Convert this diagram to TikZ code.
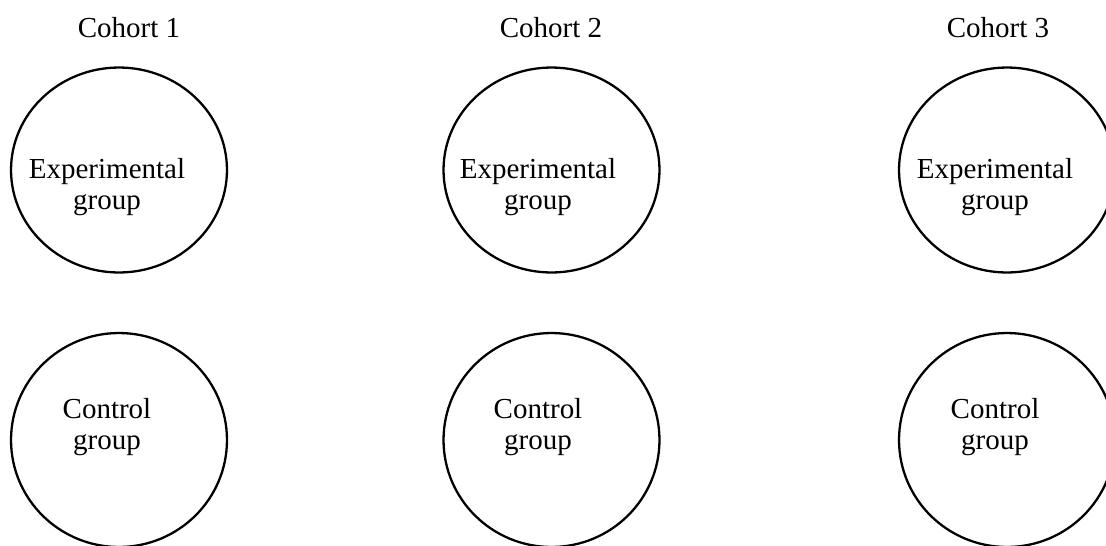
\documentclass[tikz,border=0pt]{standalone}
\usepackage{fontspec}
\setmainfont{Liberation Serif}
\usepackage{tikz}
\usetikzlibrary{shapes}
\tikzstyle{group circle}=[ellipse,draw,line width=1.3pt,minimum width=4.32cm,minimum height=4.1cm,inner sep=0pt]
\tikzstyle{control circle}=[group circle,minimum height=4.28cm]
\tikzstyle{group text}=[align=center,inner sep=0pt,font=\fontsize{16.5pt}{17.6pt}\selectfont]
\tikzstyle{cohort text}=[anchor=base,inner sep=0pt,font=\fontsize{16.5pt}{17.6pt}\selectfont]

\begin{document}
\begin{tikzpicture}[x=0.02cm,y=-0.02cm]
        \useasboundingbox (0,0) rectangle (1106,545);
        \clip (0,0) rectangle (1106,545);
        % cohort headings
        \node[cohort text] (h1) at (129,37) {Cohort 1};
        \node[cohort text] (h2) at (551,37) {Cohort 2};
        \node[cohort text] (h3) at (998,37) {Cohort 3};
        % experimental groups
        \node[group circle] (e1) at (119,170) {};
        \node[group circle] (e2) at (551.5,170) {};
        \node[group circle] (e3) at (1007,170) {};
        \node[group text] (te1) at (107,187.5) {Experimental\\group};
        \node[group text] (te2) at (538,187.5) {Experimental\\group};
        \node[group text] (te3) at (995,187.5) {Experimental\\group};
        % control groups
        \node[control circle] (c1) at (119,440) {};
        \node[control circle] (c2) at (551.5,440) {};
        \node[control circle] (c3) at (1007,440) {};
        \node[group text] (tc1) at (107,427.5) {Control\\group};
        \node[group text] (tc2) at (538,427.5) {Control\\group};
        \node[group text] (tc3) at (995,427.5) {Control\\group};
\end{tikzpicture}
\end{document}
